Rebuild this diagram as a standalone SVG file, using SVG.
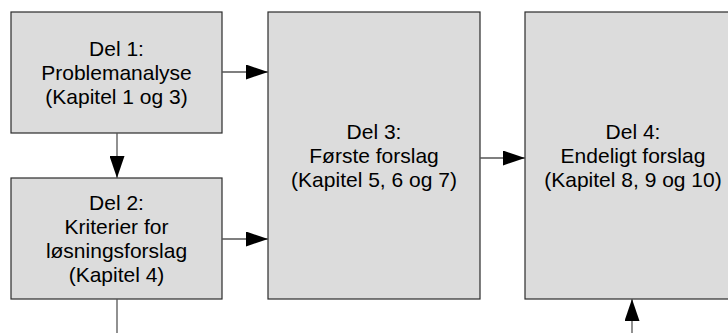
<svg xmlns="http://www.w3.org/2000/svg" width="728" height="333" viewBox="0 0 728 333">
  <style>
    .box { fill: #dcdcdc; stroke: #2b2b2b; stroke-width: 1.2; }
    .lbl { font-family: "Liberation Sans", Arial, sans-serif; font-size: 21px; fill: #000; text-anchor: middle; }
    .edge { fill: none; stroke: #555; stroke-width: 1.3; }
  </style>
  <defs>
    <marker id="arrow" viewBox="0 0 22 15" refX="22" refY="7.5" markerWidth="22" markerHeight="15" markerUnits="userSpaceOnUse" orient="auto">
      <path d="M0,0 L22,7.5 L0,15 Z" fill="#000"/>
    </marker>
  </defs>
  <rect width="728" height="333" fill="#fff"/>

  <g id="del1">
    <rect class="box" x="11" y="12" width="211" height="121"/>
    <text class="lbl" x="116.5" y="56">Del 1:</text>
    <text class="lbl" x="116.5" y="80">Problemanalyse</text>
    <text class="lbl" x="116.5" y="104">(Kapitel 1 og 3)</text>
  </g>

  <g id="del2">
    <rect class="box" x="11" y="178" width="211" height="121"/>
    <text class="lbl" x="116.5" y="210">Del 2:</text>
    <text class="lbl" x="116.5" y="234">Kriterier for</text>
    <text class="lbl" x="116.5" y="258">løsningsforslag</text>
    <text class="lbl" x="116.5" y="282">(Kapitel 4)</text>
  </g>

  <g id="del3">
    <rect class="box" x="268" y="12" width="212" height="287"/>
    <text class="lbl" x="374" y="139">Del 3:</text>
    <text class="lbl" x="374" y="163">Første forslag</text>
    <text class="lbl" x="374" y="187">(Kapitel 5, 6 og 7)</text>
  </g>

  <g id="del4">
    <rect class="box" x="525" y="12" width="216" height="287"/>
    <text class="lbl" x="633" y="139">Del 4:</text>
    <text class="lbl" x="633" y="163">Endeligt forslag</text>
    <text class="lbl" x="633" y="187">(Kapitel 8, 9 og 10)</text>
  </g>

  <g id="connectors">
    <line class="edge" x1="222" y1="72" x2="268" y2="72" marker-end="url(#arrow)"/>
    <line class="edge" x1="117" y1="133" x2="117" y2="178" marker-end="url(#arrow)"/>
    <line class="edge" x1="222" y1="239" x2="268" y2="239" marker-end="url(#arrow)"/>
    <line class="edge" x1="480" y1="158" x2="525" y2="158" marker-end="url(#arrow)"/>
    <line class="edge" x1="117" y1="299" x2="117" y2="333"/>
    <line class="edge" x1="632" y1="333" x2="632" y2="299" marker-end="url(#arrow)"/>
  </g>
</svg>
